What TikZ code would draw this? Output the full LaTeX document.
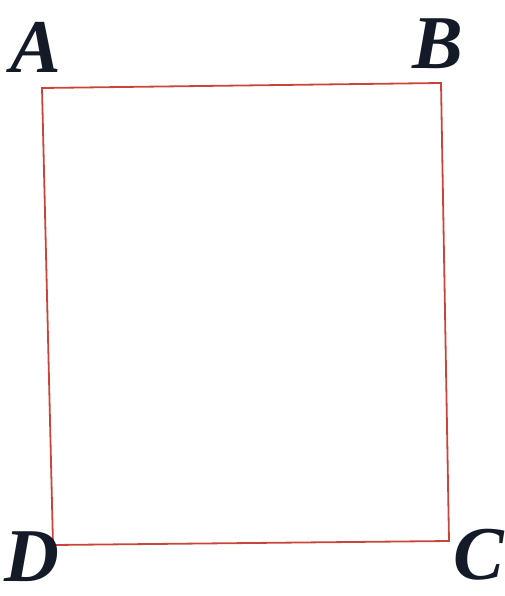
\documentclass[tikz,border=0pt]{standalone}
\usepackage{fontspec}
\setmainfont{Liberation Serif}
\definecolor{edgecol}{HTML}{C8453A}
\definecolor{labcol}{HTML}{141A28}
\begin{document}
\begin{tikzpicture}[x=1pt,y=-1pt,
  vlabel/.style={text=labcol,font=\fontsize{76}{76}\selectfont\bfseries\itshape,inner sep=0pt,anchor=base},
  side/.style={draw=edgecol,line width=1.8pt}]
\useasboundingbox (0,0) rectangle (505,596);
\coordinate (A) at (42,88);
\coordinate (B) at (441,83);
\coordinate (C) at (449,541);
\coordinate (D) at (53,545);
\draw[side] (A) -- (B) -- (C) -- (D) -- cycle;
\node[vlabel] (lA) at (36,73) {A};
\node[vlabel] (lB) at (438,69) {B};
\node[vlabel] (lD) at (32,581) {D};
\node[vlabel] (lC) at (479,579) {C};
\end{tikzpicture}
\end{document}
